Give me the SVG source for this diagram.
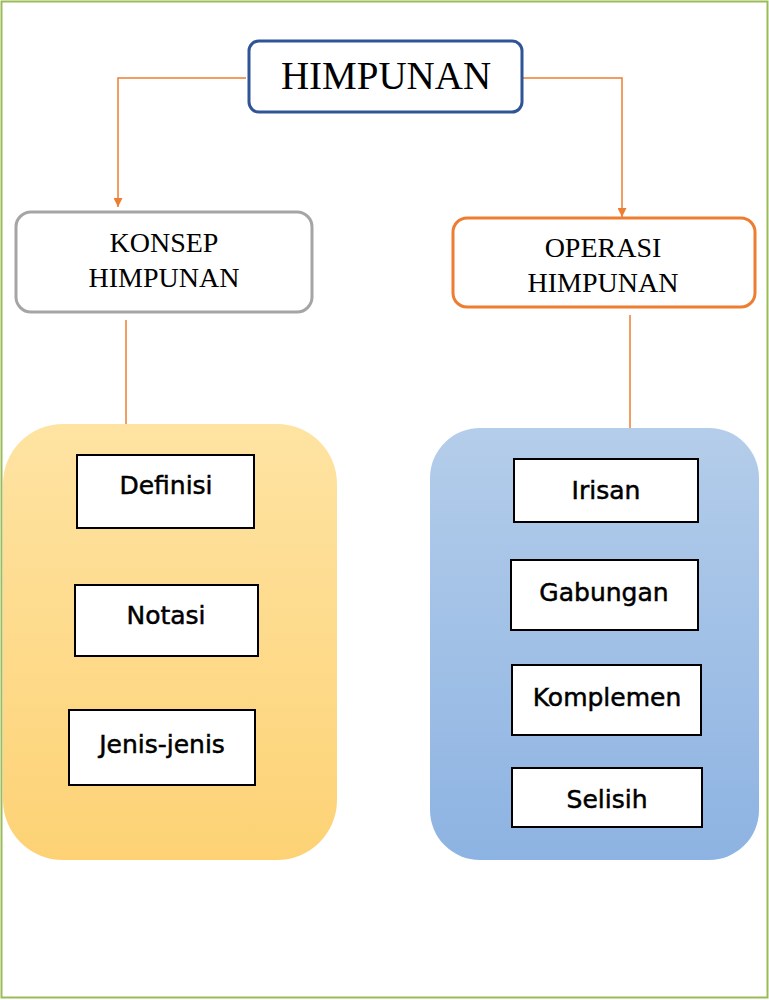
<svg xmlns="http://www.w3.org/2000/svg" width="769" height="1000" viewBox="0 0 769 1000">
  <defs>
    <style>
      .title { font-family: "Liberation Serif", "Times New Roman", serif; fill: #000; text-anchor: middle; }
      .item { font-family: "DejaVu Sans", "Liberation Sans", sans-serif; font-size: 25px; fill: #000; stroke: #000; stroke-width: 0.5; text-anchor: middle; }
      .box { fill: #fff; stroke: #000; stroke-width: 2; }
      .conn { fill: none; stroke: #ED7D31; stroke-width: 1.5; }
    </style>
    <linearGradient id="gy" x1="0" y1="0" x2="0" y2="1">
      <stop offset="0" stop-color="#FEE3A2"/>
      <stop offset="1" stop-color="#FDD275"/>
    </linearGradient>
    <linearGradient id="gb" x1="0" y1="0" x2="0" y2="1">
      <stop offset="0" stop-color="#B4CDEA"/>
      <stop offset="1" stop-color="#8DB3E2"/>
    </linearGradient>
    <marker id="arr" viewBox="0 0 10 10" refX="10" refY="5" markerWidth="10" markerHeight="9" markerUnits="userSpaceOnUse" orient="auto">
      <path d="M0,0 L10,5 L0,10 z" fill="#ED7D31"/>
    </marker>
  </defs>

  <rect x="1.5" y="1.5" width="766" height="996" fill="#fff" stroke="#9BBB59" stroke-width="2"/>

  <g id="connectors">
    <polyline class="conn" points="246,78 118,78 118,207" marker-end="url(#arr)"/>
    <polyline class="conn" points="523,78 622,78 622,217" marker-end="url(#arr)"/>
    <line class="conn" x1="126" y1="320" x2="126" y2="425"/>
    <line class="conn" x1="630" y1="315" x2="630" y2="428"/>
  </g>

  <g id="himpunan">
    <rect x="249" y="41" width="273" height="71" rx="10" fill="#fff" stroke="#2F5597" stroke-width="3"/>
    <text class="title" x="386" y="89" font-size="39">HIMPUNAN</text>
  </g>

  <g id="konsep">
    <rect x="16" y="212" width="296" height="100" rx="15" fill="#fff" stroke="#A5A5A5" stroke-width="3"/>
    <text class="title" x="164" y="252" font-size="28">KONSEP</text>
    <text class="title" x="164" y="287" font-size="28">HIMPUNAN</text>
  </g>

  <g id="operasi">
    <rect x="453" y="218" width="302" height="89" rx="14" fill="#fff" stroke="#ED7D31" stroke-width="3"/>
    <text class="title" x="603" y="257" font-size="28">OPERASI</text>
    <text class="title" x="603" y="292" font-size="28">HIMPUNAN</text>
  </g>

  <g id="konsep-group">
    <rect x="3" y="424" width="334" height="436" rx="60" fill="url(#gy)"/>
  </g>
  <g id="operasi-group">
    <rect x="430" y="428" width="329" height="432" rx="50" fill="url(#gb)"/>
  </g>

  <g id="definisi">
    <rect class="box" x="77" y="455" width="177" height="73"/>
    <text class="item" x="166" y="494">Definisi</text>
  </g>
  <g id="notasi">
    <rect class="box" x="75" y="585" width="183" height="71"/>
    <text class="item" x="166" y="624">Notasi</text>
  </g>
  <g id="jenis">
    <rect class="box" x="69" y="710" width="186" height="75"/>
    <text class="item" x="162" y="753">Jenis-jenis</text>
  </g>

  <g id="irisan">
    <rect class="box" x="514" y="459" width="184" height="63"/>
    <text class="item" x="606" y="499">Irisan</text>
  </g>
  <g id="gabungan">
    <rect class="box" x="511" y="560" width="187" height="70"/>
    <text class="item" x="604" y="601">Gabungan</text>
  </g>
  <g id="komplemen">
    <rect class="box" x="512" y="665" width="189" height="70"/>
    <text class="item" x="607" y="706">Komplemen</text>
  </g>
  <g id="selisih">
    <rect class="box" x="512" y="768" width="190" height="59"/>
    <text class="item" x="607" y="808">Selisih</text>
  </g>
</svg>
